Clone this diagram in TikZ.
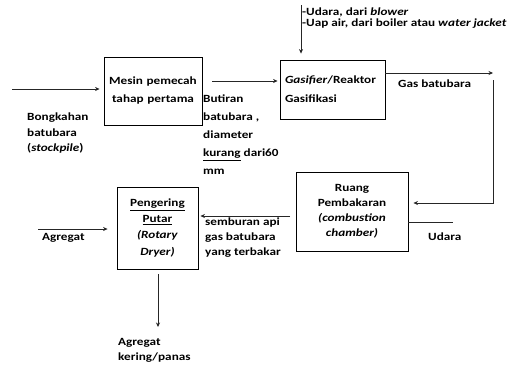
\documentclass[tikz,border=0pt]{standalone}
\usepackage{fontspec}
\setmainfont{Carlito}[FakeStretch=1.2]
\usepackage{tikz}
\usetikzlibrary{positioning,calc}
\usetikzlibrary{arrows.meta}
\newcommand\ketfont{\fontsize{11}{15}\selectfont\bfseries}
\tikzset{
  blok/.style={draw=black,line width=0.9pt,inner ysep=0pt,inner xsep=5pt,font=\ketfont,align=center},
  alur/.style={draw=black!85,line width=0.6pt,-{Stealth[length=4.5pt,width=4pt]}},
  garis/.style={draw=black!85,line width=0.6pt},
  ket/.style={font=\ketfont,align=left,inner sep=0pt,anchor=north west},
}

\begin{document}
\begin{tikzpicture}[x=1pt,y=-1pt]
\useasboundingbox (0,0) rectangle (513,367);
\node[blok,text width=88pt,minimum height=68pt,font=\fontsize{11}{18}\selectfont\bfseries] (pemecah) at (153,91) {Mesin pemecah\\tahap pertama};
\node[blok,text width=95pt,minimum height=59pt,align=left,font=\fontsize{11}{19}\selectfont\bfseries] (gasifier) at (332.5,89.5) {\textit{Gasifier}/Reaktor\\Gasifikasi};
\node[blok,text width=102pt,minimum height=79pt] (ruang) at (352,211.5) {Ruang\\Pembakaran\\\textit{(combustion}\\\textit{chamber)}};
\node[blok,text width=71pt,minimum height=82pt,font=\fontsize{11}{16}\selectfont\bfseries] (pengering) at (157.5,228) {\underline{Pengering}\\\underline{Putar}\\\textit{(Rotary}\\\textit{Dryer)}};

\coordinate (masuk) at (12,89);
\coordinate (butir) at (212,81);
\coordinate (atas) at (301,5);
\coordinate (sudut) at (493,73);
\coordinate (belok) at (493,203);
\coordinate (udara) at (453,222);
\coordinate (api) at (290,216);
\coordinate (agr) at (38,229);
\coordinate (keluar) at (158,327);

\draw[alur,shorten >=4pt] (masuk) -- (masuk-|pemecah.west);
\draw[alur,shorten >=2pt] (butir) -- (butir-|gasifier.west);
\draw[alur,shorten >=6pt] (atas) -- (atas|-gasifier.north);
\draw[alur] (sudut-|gasifier.east) -- (sudut);
\draw[alur,shorten >=5pt] ([yshift=-7pt]sudut) -- (belok) -- (belok-|ruang.east);
\draw[garis] (udara-|ruang.east) -- (udara);
\draw[alur,shorten >=2pt] (api) -- (api-|pengering.east);
\draw[alur,shorten >=9pt] (agr) -- (agr-|pengering.west);
\draw[alur,shorten <=5pt] (keluar|-pengering.south) -- (keluar);

\node[ket,font=\fontsize{11}{15.5}\selectfont\bfseries] (bongkahan) at (27,113) {Bongkahan\\batubara\\(\textit{stockpile})};
\node[ket,font=\fontsize{11}{18}\selectfont\bfseries] (butiran) at (203,95) {Butiran\\batubara ,\\diameter\\\underline{kurang} dari60\\mm};
\node[ket,font=\fontsize{11}{11}\selectfont\bfseries] (umpan) at (302,8) {-Udara, dari \textit{blower}\\-Uap air, dari boiler atau \textit{water jacket}};
\node[ket] (gas) at (398,80) {Gas batubara};
\node[ket] (ketudara) at (428,233) {Udara};
\node[ket] (semburan) at (205,218) {semburan api\\gas batubara\\yang terbakar};
\node[ket] (agregat) at (42,233) {Agregat};
\node[ket] (kering) at (118,338) {Agregat\\kering/panas};
\end{tikzpicture}
\end{document}
